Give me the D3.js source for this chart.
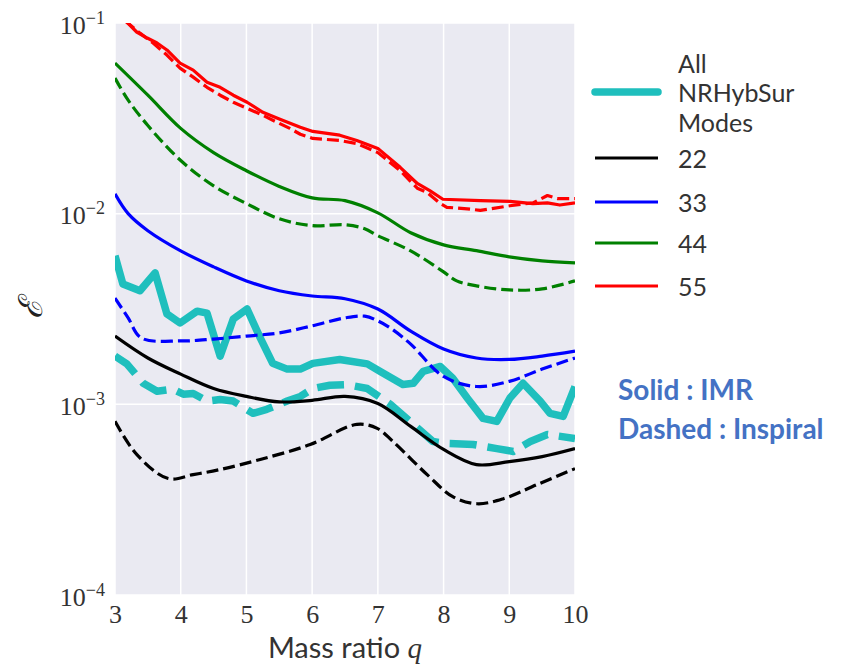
<!DOCTYPE html>
<html>
<head>
<meta charset="utf-8">
<script src="https://cdn.jsdelivr.net/npm/d3@7"></script>
<style>
  body { margin: 0; background: #fff; }
</style>
</head>
<body>
<div class="chart"></div>
<script>
// values, as [q, mismatch]
const allModesIMR = [[3.0,0.00601],[3.12,0.00428],[3.38,0.00394],[3.61,0.00489],[3.79,0.00298],[3.99,0.00267],[4.25,0.00308],[4.40,0.00301],[4.60,0.00179],[4.80,0.0028],[5.01,0.00316],[5.21,0.00223],[5.40,0.00164],[5.62,0.00153],[5.82,0.00153],[6.01,0.00164],[6.42,0.00172],[6.84,0.00163],[7.03,0.00149],[7.38,0.00127],[7.54,0.00129],[7.69,0.00149],[7.95,0.00158],[8.14,0.00137],[8.36,0.00108],[8.60,0.000844],[8.81,0.000814],[9.01,0.00108],[9.21,0.00129],[9.47,0.00104],[9.62,0.000897],[9.82,0.000865],[10.0,0.00124]];
const allModesInsp = [[3.0,0.00179],[3.18,0.00163],[3.43,0.00129],[3.64,0.00117],[3.88,0.0012],[4.04,0.00113],[4.19,0.00114],[4.40,0.00104],[4.60,0.00106],[4.80,0.00104],[5.10,0.000897],[5.31,0.000942],[5.62,0.00104],[5.82,0.0011],[6.01,0.00121],[6.27,0.00126],[6.53,0.00127],[6.84,0.00121],[7.19,0.001],[7.54,0.000785],[7.84,0.000638],[8.05,0.000623],[8.45,0.000616],[8.81,0.000586],[9.06,0.000566],[9.32,0.000638],[9.58,0.000695],[10.0,0.000662]];

const mode22IMR = [[3,0.00228],[3.5,0.00175],[4,0.00144],[4.5,0.00121],[5,0.0011],[5.5,0.00103],[6,0.00105],[6.5,0.0011],[7,0.00101],[7.5,0.000766],[8,0.00058],[8.5,0.000483],[9,0.000501],[9.5,0.000532],[10,0.000586]];
const mode22Insp = [[3,0.000815],[3.33,0.000546],[3.81,0.000408],[4.19,0.000428],[4.6,0.000455],[5.21,0.000514],[5.97,0.000615],[6.68,0.000785],[6.99,0.000748],[7.23,0.000638],[7.75,0.000428],[8.14,0.000328],[8.51,0.000301],[8.91,0.00032],[9.42,0.000379],[10,0.00046]];

const mode33IMR = [[3,0.0127],[3.2,0.01],[3.5,0.00814],[4,0.00638],[4.5,0.00526],[5,0.00444],[5.5,0.00394],[6,0.0037],[6.5,0.00358],[7,0.00316],[7.5,0.00242],[8,0.00195],[8.5,0.00175],[9,0.00172],[9.5,0.00179],[10,0.0019]];
const mode33Insp = [[3,0.00361],[3.2,0.00284],[3.4,0.00223],[4,0.00215],[4.5,0.0022],[5,0.00228],[5.5,0.00237],[6,0.00258],[6.5,0.00284],[6.8,0.0029],[7,0.00274],[7.2,0.0025],[7.5,0.00207],[8,0.0014],[8.5,0.00124],[9,0.00132],[9.5,0.00153],[10,0.00175]];

const mode44IMR = [[3,0.0616],[3.5,0.0418],[4,0.028],[4.5,0.0209],[5,0.0168],[5.5,0.0139],[6,0.0121],[6.5,0.0117],[7,0.0101],[7.5,0.00794],[8,0.00686],[8.5,0.0064],[9,0.00594],[9.5,0.00566],[10,0.00552]];
const mode44Insp = [[3,0.0514],[3.2,0.0394],[3.5,0.029],[4,0.019],[4.5,0.014],[5,0.0113],[5.5,0.0094],[6,0.00865],[6.5,0.00875],[6.8,0.00834],[7,0.00766],[7.5,0.00638],[8,0.00495],[8.2,0.00444],[8.5,0.00418],[9,0.00398],[9.5,0.00403],[10,0.00444]];

const mode55IMR = [[3,0.122],[3.18,0.101],[3.33,0.0897],[3.49,0.0834],[3.64,0.0785],[3.79,0.0722],[3.99,0.0616],[4.19,0.0566],[4.4,0.0489],[4.6,0.046],[4.8,0.0418],[5.01,0.0384],[5.25,0.034],[5.51,0.0313],[5.82,0.0284],[6.01,0.027],[6.42,0.0258],[6.68,0.0242],[7.0,0.022],[7.34,0.0175],[7.6,0.0144],[7.79,0.0132],[7.99,0.0119],[8.56,0.0117],[9.01,0.0116],[9.36,0.0113],[9.58,0.0114],[9.77,0.0111],[10,0.0114]];
const mode55Insp = [[3,0.122],[3.18,0.101],[3.38,0.0885],[3.58,0.0785],[3.79,0.0679],[3.99,0.058],[4.19,0.052],[4.4,0.046],[4.6,0.0418],[4.8,0.0384],[5.01,0.0357],[5.25,0.0328],[5.47,0.0301],[5.66,0.028],[5.82,0.0261],[6.01,0.0248],[6.42,0.0242],[6.68,0.0233],[7.0,0.0209],[7.34,0.0168],[7.6,0.0136],[7.75,0.0129],[7.95,0.0113],[8.05,0.0108],[8.36,0.0106],[8.56,0.0104],[9.01,0.011],[9.36,0.0114],[9.58,0.01245],[9.73,0.012],[10,0.012]];

const xTicks = [3, 4, 5, 6, 7, 8, 9, 10];
const yTicks = [1e-1, 1e-2, 1e-3, 1e-4];
const legendLabels = [["All", "NRHybSur", "Modes"], ["22"], ["33"], ["44"], ["55"]];

const series = [
  {imr: allModesIMR, insp: allModesInsp, color: "#1fbfbd", lw: 7.5, dash: "27,11", smooth: false},
  {imr: mode22IMR, insp: mode22Insp, color: "#000000", lw: 3.2, dash: "12,5", smooth: true},
  {imr: mode33IMR, insp: mode33Insp, color: "#0000ff", lw: 3.2, dash: "12,5", smooth: true},
  {imr: mode44IMR, insp: mode44Insp, color: "#008000", lw: 3.2, dash: "12,5", smooth: true},
  {imr: mode55IMR, insp: mode55Insp, color: "#ff0000", lw: 3.2, dash: "12,5", smooth: false}
];

// margin convention
const margin = ({top: 23, right: 266, bottom: 72, left: 115});
const width = 841 - margin.left - margin.right;
const height = 667 - margin.top - margin.bottom;

const root = d3.select(".chart")
  .append("svg")
  .attr("width", 841)
  .attr("height", 667);

const svg = root.append("g")
  .attr("transform", `translate(${margin.left},${margin.top})`);

const xScale = d3.scaleLinear().domain([3, 10]).range([0, width]);
const yScale = d3.scaleLog().domain([1e-4, 1e-1]).range([height, 0]);

// background + grid
svg.append("rect")
  .attr("width", width)
  .attr("height", height)
  .attr("fill", "#eaeaf2");

svg.selectAll(".vgrid")
  .data(xTicks)
  .enter()
  .append("line")
  .attr("x1", d => xScale(d)).attr("x2", d => xScale(d))
  .attr("y1", 0).attr("y2", height)
  .attr("stroke", "#fff").attr("stroke-width", 1.5);

svg.selectAll(".hgrid")
  .data(yTicks)
  .enter()
  .append("line")
  .attr("x1", 0).attr("x2", width)
  .attr("y1", d => yScale(d)).attr("y2", d => yScale(d))
  .attr("stroke", "#fff").attr("stroke-width", 1.5);

svg.append("clipPath")
  .attr("id", "clip")
  .append("rect")
  .attr("width", width)
  .attr("height", height);

const plot = svg.append("g").attr("clip-path", "url(#clip)");

series.forEach(s => {
  const line = d3.line()
    .x(d => xScale(d[0]))
    .y(d => yScale(d[1]))
    .curve(s.smooth ? d3.curveCatmullRom.alpha(0.5) : d3.curveLinear);

  plot.append("path")
    .datum(s.insp)
    .attr("fill", "none")
    .attr("stroke", s.color)
    .attr("stroke-width", s.lw)
    .attr("stroke-dasharray", s.dash)
    .attr("stroke-linejoin", "round")
    .attr("d", line);

  plot.append("path")
    .datum(s.imr)
    .attr("fill", "none")
    .attr("stroke", s.color)
    .attr("stroke-width", s.lw)
    .attr("stroke-linejoin", "round")
    .attr("d", line);
});

// axes
const xAxis = d3.axisBottom(xScale).tickValues(xTicks).tickSize(0).tickFormat(d3.format("d"));
const yAxis = d3.axisLeft(yScale).tickValues(yTicks).tickSize(0).tickFormat(() => "");

const xAxisGroup = svg.append("g")
  .attr("transform", `translate(0, ${height})`)
  .call(xAxis);
xAxisGroup.select(".domain").remove();
xAxisGroup.selectAll("text")
  .attr("y", 28)
  .attr("dy", null)
  .attr("font-family", "'Liberation Serif', serif")
  .attr("font-size", 26)
  .attr("fill", "#333");

const yAxisGroup = svg.append("g").call(yAxis);
yAxisGroup.select(".domain").remove();
yAxisGroup.selectAll("text")
  .attr("x", -10)
  .attr("y", 10)
  .attr("dy", null)
  .attr("font-family", "'Liberation Serif', serif")
  .attr("font-size", 26)
  .attr("fill", "#333")
  .each(function(d) {
    const t = d3.select(this);
    t.text(null);
    t.append("tspan").text("10");
    t.append("tspan")
      .attr("dy", -10)
      .attr("font-size", 18)
      .text("\u2212" + Math.abs(Math.round(Math.log10(d))));
  });

// labels
const xlabel = root.append("text")
  .attr("x", margin.left + width / 2)
  .attr("y", 658)
  .attr("text-anchor", "middle")
  .attr("font-family", "Lato, sans-serif")
  .attr("font-size", 29)
  .attr("fill", "#333");
xlabel.append("tspan").text("Mass ratio ");
xlabel.append("tspan")
  .attr("font-family", "'Liberation Serif', serif")
  .attr("font-style", "italic")
  .text("q");

root.append("text")
  .attr("transform", "translate(42, 309) rotate(-90)")
  .attr("text-anchor", "middle")
  .attr("font-family", "'DejaVu Serif', serif")
  .attr("font-style", "italic")
  .attr("font-size", 33)
  .attr("fill", "#222")
  .text("\u2130");

// legend
const legendLineY = [92, 158, 202, 243, 286];
const legend = root.append("g");
series.forEach((s, i) => {
  legend.append("line")
    .attr("x1", 595).attr("x2", 658)
    .attr("y1", legendLineY[i]).attr("y2", legendLineY[i])
    .attr("stroke", s.color)
    .attr("stroke-width", i === 0 ? 7.5 : 3.2)
    .attr("stroke-linecap", i === 0 ? "round" : "butt");
  const lines = legendLabels[i];
  lines.forEach((txt, j) => {
    legend.append("text")
      .attr("x", 678)
      .attr("y", legendLineY[i] + 10 + (j - (lines.length - 1) / 2) * 29.5)
      .attr("font-family", "Lato, sans-serif")
      .attr("font-size", 25)
      .attr("fill", "#333")
      .text(txt);
  });
});

// annotation
const note = root.append("g")
  .attr("font-family", "Lato, sans-serif")
  .attr("font-weight", "bold")
  .attr("font-size", 28)
  .attr("fill", "#4472c4");
note.append("text").attr("x", 618).attr("y", 400).text("Solid : IMR");
note.append("text").attr("x", 618).attr("y", 439).text("Dashed : Inspiral");
</script>
</body>
</html>
